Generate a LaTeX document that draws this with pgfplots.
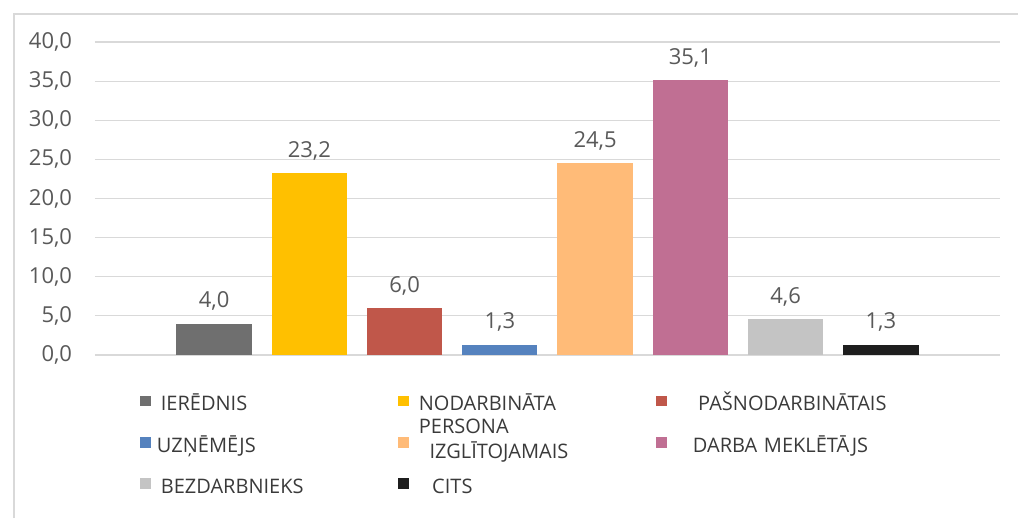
\documentclass[border=0pt]{standalone}
\usepackage{fontspec}
\setmainfont{Open Sans}
\usepackage{pgfplots}
\pgfplotsset{compat=1.18}

\definecolor{cIer}{HTML}{6F6F6F}
\definecolor{cNod}{HTML}{FFC000}
\definecolor{cPas}{HTML}{C0574A}
\definecolor{cUzn}{HTML}{5582BE}
\definecolor{cIzg}{HTML}{FFBB78}
\definecolor{cDar}{HTML}{C06F93}
\definecolor{cBez}{HTML}{C4C4C4}
\definecolor{cCit}{HTML}{1E1E1E}
\definecolor{labgray}{HTML}{595959}
\definecolor{legtext}{HTML}{3A3A3A}

\begin{document}
\begin{tikzpicture}
\useasboundingbox (0,0) rectangle (763.5pt,388.5pt);
\draw[gray!30, line width=1.2pt] (10.5pt,0) -- (10.5pt,378pt) -- (763.5pt,378pt);
\begin{axis}[
	at={(71.25pt,122.25pt)}, anchor=south west,
	scale only axis,
	width=678.75pt, height=234.75pt,
	ybar, bar width=0.79, bar shift=0pt,
	xmin=-0.25, xmax=9.25,
	ymin=0, ymax=40,
	ytick distance=5,
	xtick=\empty,
	axis line style={draw=none},
	tick style={draw=none},
	ymajorgrids=true,
	grid style={gray!30, line width=0.9pt},
	/pgf/number format/fixed,
	/pgf/number format/fixed zerofill,
	/pgf/number format/precision=1,
	/pgf/number format/use comma,
	/pgf/number format/assume math mode=true,
	yticklabel style={font=\fontsize{16.5}{19}\selectfont, text=labgray, inner sep=0pt, xshift=-17pt},
	nodes near coords,
	every node near coord/.append style={font=\fontsize{16.5}{19}\selectfont, text=labgray, anchor=base, yshift=12pt},
	legend columns=3,
	legend style={draw=none, fill=none, inner sep=0pt,
		at={(0.0497,-0.128)}, anchor=north west,
		row sep=16.5pt,
		nodes={text width=172pt, align=left, inner sep=0pt, text height=11.5pt, text depth=3pt,
			font=\fontsize{15}{17}\selectfont, text=legtext},
		/tikz/every odd column/.append style={column sep=7.5pt},
		/tikz/every even column/.append style={column sep=6pt}},
	legend image code/.code={\fill[#1] (0pt,-1pt) rectangle (8pt,7pt);},
]
	% one series per category, as in the source chart
	\addplot[fill=cIer, draw=none] coordinates {(1,4.0)};
	\addplot[fill=cNod, draw=none] coordinates {(2,23.2)};
	\addplot[fill=cPas, draw=none] coordinates {(3,6.0)};
	\addplot[fill=cUzn, draw=none] coordinates {(4,1.3)};
	\addplot[fill=cIzg, draw=none] coordinates {(5,24.5)};
	\addplot[fill=cDar, draw=none] coordinates {(6,35.1)};
	\addplot[fill=cBez, draw=none] coordinates {(7,4.6)};
	\addplot[fill=cCit, draw=none] coordinates {(8,1.3)};

	\legend{IERĒDNIS,
		\smash{\begin{tabular}[t]{@{}l@{}}NODARBINĀTA\\PERSONA\end{tabular}},
		\hspace{16pt}PAŠNODARBINĀTAIS,
		\hspace{-3pt}UZŅĒMĒJS,
		\hspace{8pt}\smash{\raisebox{-5pt}{IZGLĪTOJAMAIS}},
		\hspace{12pt}DARBA MEKLĒTĀJS,
		BEZDARBNIEKS,
		\hspace{10pt}CITS}
\end{axis}
\end{tikzpicture}
\end{document}
